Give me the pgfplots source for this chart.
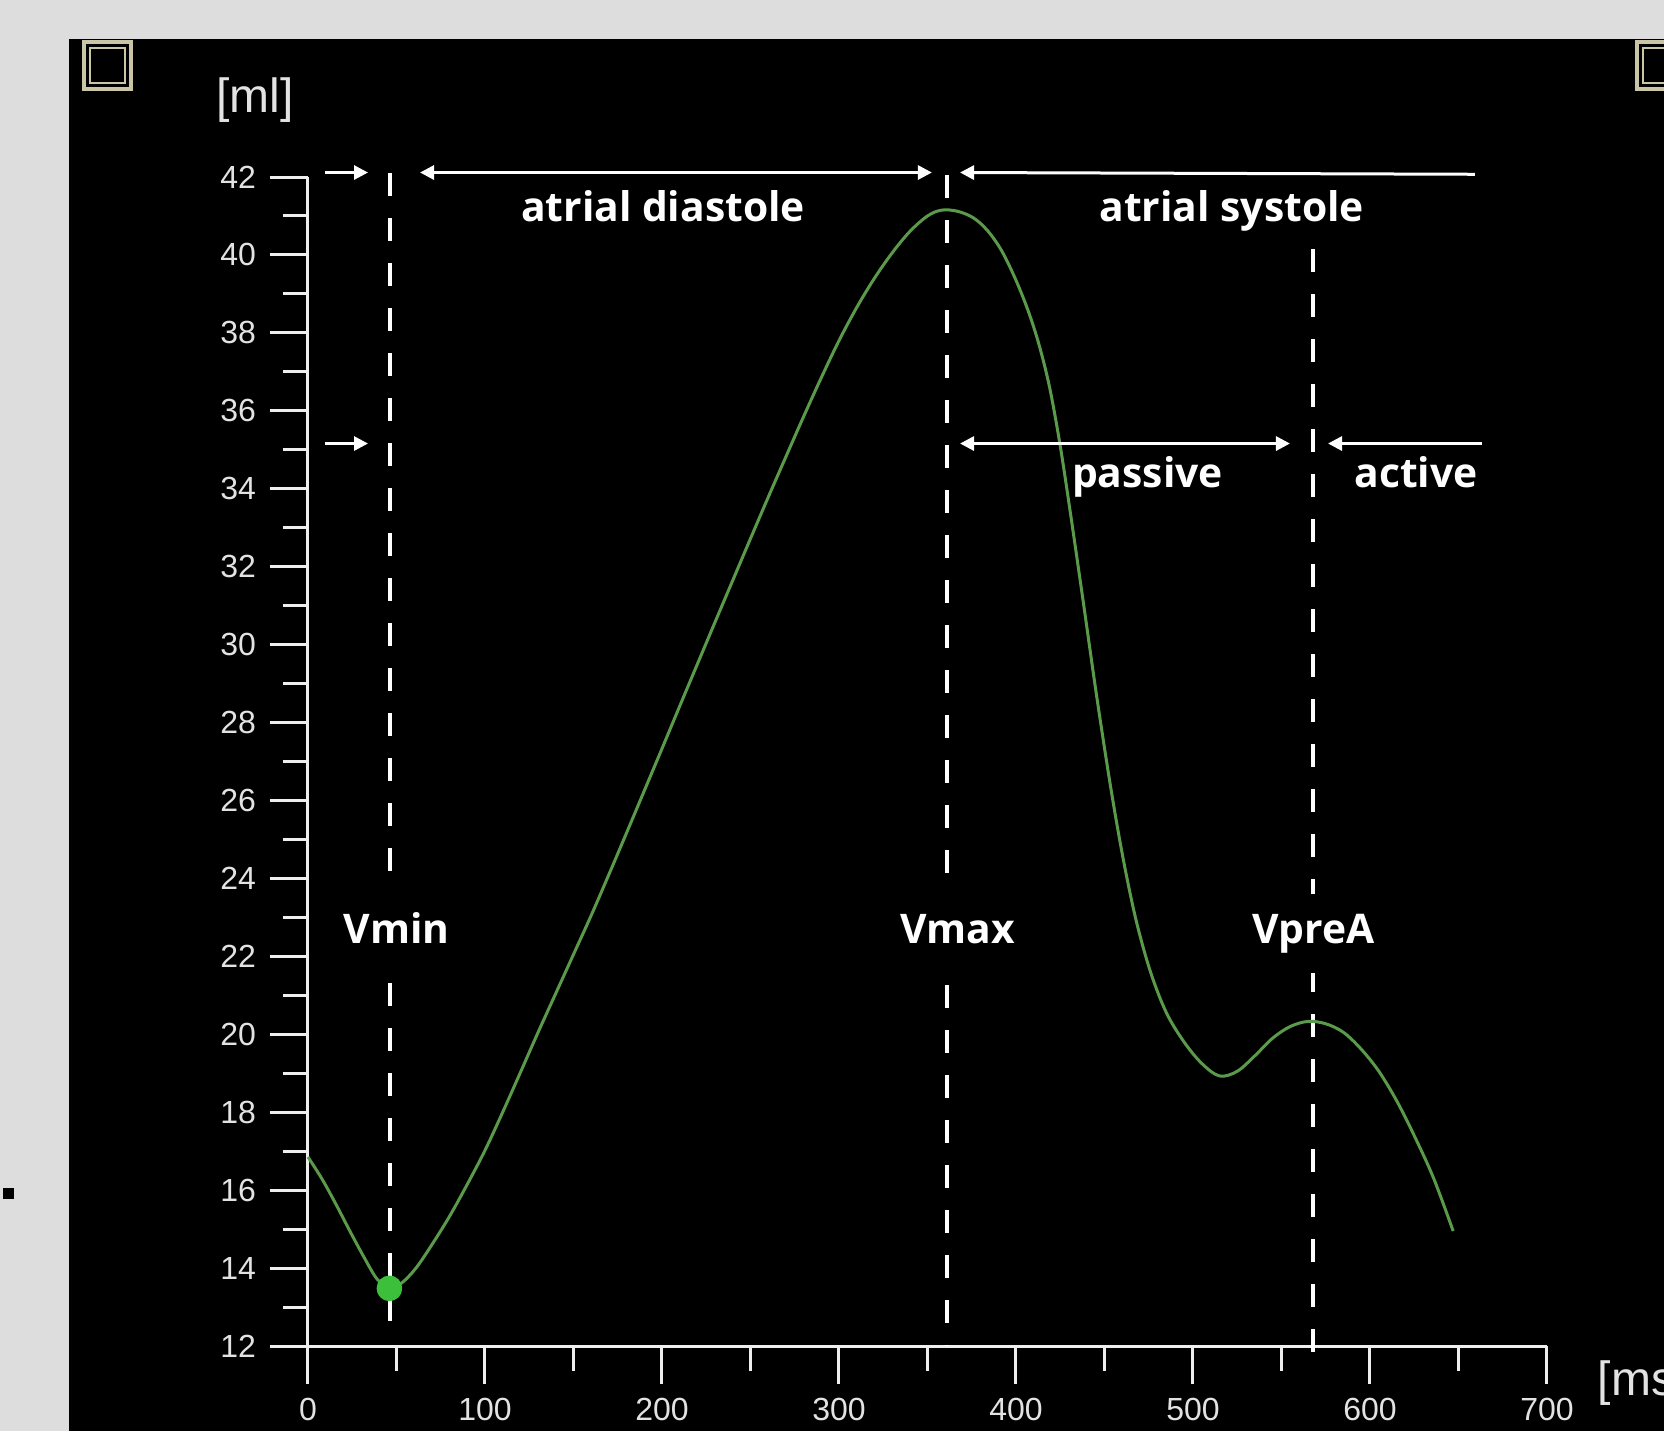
\documentclass[border=0pt]{standalone}
\usepackage{fontspec}
\setmainfont{Open Sans}
\newfontfamily\tickfont{Liberation Sans}
\usepackage{pgfplots}
\pgfplotsset{compat=1.18}
\usetikzlibrary{arrows.meta}
\definecolor{bgc}{HTML}{DDDDDD}
\definecolor{boxc}{HTML}{C9C5A6}
\definecolor{axc}{HTML}{EEEEEE}
\definecolor{tickc}{HTML}{E2E2E2}
\definecolor{curvec}{HTML}{5A9A4A}
\definecolor{dotc}{HTML}{3CC03C}
\pgfplotstableread{
x y
0 16.85
8 16.28
16 15.62
24 14.92
32 14.25
39 13.72
46 13.48
53 13.62
61 14.0
70 14.6
80 15.33
90 16.15
100 17.02
110 18.0
120 19.02
130 20.05
140 21.05
150 22.05
160 23.05
170 24.1
180 25.17
190 26.25
200 27.33
210 28.42
220 29.5
230 30.58
240 31.65
250 32.72
260 33.78
270 34.82
280 35.85
290 36.85
300 37.8
310 38.65
320 39.4
330 40.05
340 40.6
350 41.0
358 41.15
367 41.12
376 40.95
384 40.62
392 40.1
400 39.35
407 38.55
413 37.7
419 36.6
425 35.1
431 33.3
438 31.1
446 28.55
454 26.2
461 24.4
468 22.9
476 21.6
485 20.55
495 19.8
505 19.25
515 18.93
525 19.05
535 19.45
545 19.9
555 20.2
565 20.33
575 20.27
585 20.05
595 19.62
605 19.05
615 18.3
625 17.4
636 16.3
647 14.95
}\volume
\begin{document}
\begin{tikzpicture}
\begin{scope}[x=0.25pt,y=0.25pt]
\path[use as bounding box, clip] (0,0) rectangle (1664,-1431);
\fill[bgc] (0,0) rectangle (1664,-1431);
\fill[black] (69,-39) rectangle (1664,-1431);
\fill[black] (3,-1188) rectangle (14,-1199);
\draw[boxc, line width=1pt] (84,-42) rectangle (131,-89);
\draw[boxc, line width=0.6pt] (90,-48) rectangle (125,-83);
\draw[boxc, line width=1pt] (1637,-42) rectangle (1684,-89);
\draw[boxc, line width=0.6pt] (1643,-48) rectangle (1678,-83);
\node[font=\tickfont\fontsize{12}{13}\selectfont, text=tickc, inner sep=0pt] at (255,-100) {[ml]};
\node[font=\tickfont\fontsize{12}{13}\selectfont, text=tickc, inner sep=0pt, anchor=west] at (1597,-1383) {[ms]};
\end{scope}
\begin{axis}[
 at={(77pt,-336.5pt)}, anchor=south west,
 scale only axis, width=309.75pt, height=292.25pt,
 xmin=0, xmax=700, ymin=12, ymax=42,
 axis x line*=bottom, axis y line*=left,
 axis line style={draw=axc, line width=0.75pt, -},
 tick align=outside,
 major tick length=9.5pt, minor tick length=6.25pt,
 xtick={0,100,...,700}, ytick={12,14,...,42},
 minor x tick num=1, minor y tick num=1,
 every tick/.style={axc, line width=0.75pt},
 tick label style={font=\tickfont\fontsize{8}{9}\selectfont, text=tickc},
 /pgf/number format/assume math mode=true,
 clip=false,
]
\addplot[white, line width=1pt, dash pattern=on 5.75pt off 5.5pt] coordinates {(46.3,42.1) (46.3,12.2)};
\addplot[white, line width=1pt, dash pattern=on 5.75pt off 5.5pt] coordinates {(361.2,42.05) (361.2,12)};
\addplot[white, line width=1pt, dash pattern=on 5.75pt off 5.5pt] coordinates {(567.8,40.15) (567.8,11.8)};
\addplot[curvec, line width=0.75pt, smooth, tension=0.55] table[x=x,y=y] {\volume};
\addplot[only marks, mark=*, mark size=3pt, dotc] coordinates {(46,13.48)};
% arrows
\draw[white, line width=0.75pt, -{Triangle[length=3.5pt,width=3.5pt]}] (axis cs:9.6,42.115) -- (axis cs:33.9,42.115);
\draw[white, line width=0.75pt, {Triangle[length=3.5pt,width=3.5pt]}-{Triangle[length=3.5pt,width=3.5pt]}] (axis cs:63.3,42.115) -- (axis cs:352.5,42.115);
\draw[white, line width=0.75pt, {Triangle[length=3.5pt,width=3.5pt]}-] (axis cs:368.4,42.115) -- (axis cs:659.3,42.07);
\draw[white, line width=0.75pt, -{Triangle[length=3.5pt,width=3.5pt]}] (axis cs:9.6,35.16) -- (axis cs:33.9,35.16);
\draw[white, line width=0.75pt, {Triangle[length=3.5pt,width=3.5pt]}-{Triangle[length=3.5pt,width=3.5pt]}] (axis cs:368.4,35.16) -- (axis cs:554.8,35.16);
\draw[white, line width=0.75pt, {Triangle[length=3.5pt,width=3.5pt]}-] (axis cs:576.3,35.16) -- (axis cs:663.3,35.16);
% labels
\tikzset{lab/.style={font=\bfseries\fontsize{10.2}{12}\selectfont, text=white, anchor=base, inner sep=0pt}}
\node[lab] at (axis cs:200.6,40.85) {atrial diastole};
\node[lab] at (axis cs:521.9,40.85) {atrial systole};
\node[lab] at (axis cs:474.3,34.02) {passive};
\node[lab] at (axis cs:626,34.02) {active};
\node[lab, fill=black, inner xsep=1pt, inner ysep=5pt] at (axis cs:50.1,22.34) {Vmin};
\node[lab, fill=black, inner xsep=1pt, inner ysep=5pt] at (axis cs:367.2,22.34) {Vmax};
\node[lab, fill=black, inner xsep=1pt, inner ysep=5pt] at (axis cs:568.2,22.34) {VpreA};
\end{axis}
\end{tikzpicture}
\end{document}
